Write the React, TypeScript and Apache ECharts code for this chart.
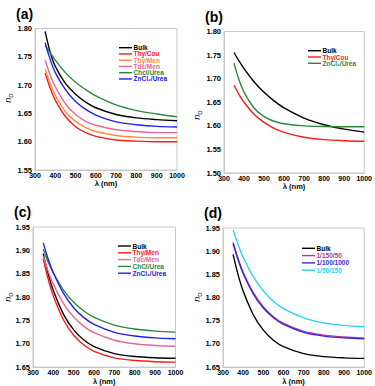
import React, { useEffect, useRef } from "react";
import * as echarts from "echarts";

// wavelengths (nm)
const LAMBDA = [350, 375, 400, 450, 500, 550, 600, 700, 800, 900, 1000];
const X_TICKS = [300, 400, 500, 600, 700, 800, 900, 1000];

// Panel (a)
const A_BULK = [1.795, 1.758, 1.733, 1.703, 1.684, 1.67, 1.66, 1.648, 1.642, 1.639, 1.637];
const A_THY_COU = [1.7215, 1.6945, 1.6735, 1.6445, 1.6265, 1.616, 1.6095, 1.603, 1.601, 1.6, 1.6];
const A_THY_MEN = [1.728, 1.702, 1.682, 1.653, 1.636, 1.625, 1.618, 1.611, 1.608, 1.607, 1.607];
const A_TDC_MEN = [1.744, 1.718, 1.697, 1.667, 1.648, 1.636, 1.629, 1.621, 1.618, 1.616, 1.616];
const A_CHCL_UREA = [1.77, 1.757, 1.744, 1.722, 1.705, 1.692, 1.681, 1.665, 1.655, 1.649, 1.644];
const A_ZNCL2_UREA = [1.775, 1.745, 1.722, 1.692, 1.671, 1.657, 1.647, 1.635, 1.63, 1.627, 1.626];

// Panel (b)
const B_BULK = [1.7555, 1.7375, 1.7214, 1.6936, 1.671, 1.653, 1.638, 1.6165, 1.6023, 1.5929, 1.5867];
const B_THY_COU = [1.686, 1.6663, 1.65, 1.6247, 1.6072, 1.5948, 1.5862, 1.5758, 1.5708, 1.5684, 1.5672];
const B_ZNCL2_UREA = [1.733, 1.6975, 1.6713, 1.6378, 1.6196, 1.6097, 1.6044, 1.5999, 1.5985, 1.598, 1.598];

// Panel (c)
const C_BULK = [1.893, 1.849, 1.814, 1.763, 1.7297, 1.708, 1.694, 1.679, 1.6727, 1.67, 1.6688];
const C_THY_MEN = [1.882, 1.8376, 1.802, 1.7508, 1.7182, 1.6973, 1.6838, 1.6698, 1.664, 1.6616, 1.6607];
const C_TDC_MEN = [1.888, 1.855, 1.8276, 1.786, 1.7572, 1.7373, 1.7236, 1.7076, 1.7, 1.6963, 1.6946];
const C_CHCL_UREA = [1.9025, 1.8745, 1.8515, 1.8149, 1.7887, 1.77, 1.7565, 1.74, 1.7315, 1.7271, 1.7249];
const C_ZNCL2_UREA = [1.916, 1.881, 1.852, 1.8077, 1.7771, 1.756, 1.7415, 1.7245, 1.7165, 1.7125, 1.7107];

// Panel (d)
const D_BULK = [1.893, 1.849, 1.814, 1.763, 1.7297, 1.708, 1.694, 1.679, 1.6727, 1.67, 1.6688];
const D_1_150_50 = [1.919, 1.8839, 1.8547, 1.8105, 1.7798, 1.7586, 1.7441, 1.7271, 1.719, 1.715, 1.7125];
const D_1_100_1000 = [1.916, 1.8811, 1.852, 1.808, 1.7774, 1.7564, 1.7419, 1.725, 1.7169, 1.713, 1.711];
const D_1_50_150 = [1.946, 1.914, 1.887, 1.845, 1.8145, 1.792, 1.776, 1.756, 1.7455, 1.74, 1.737];

const BLACK = "#000000";
const RED = "#ff1a1a";
const ORANGE = "#ff8a3d";
const PINK = "#e8679a";
const GREEN = "#2a8a3a";
const BLUE = "#2020f0";
const MAGENTA = "#b8309f";
const BLUE_D = "#3a2ad0";
const CYAN = "#22d4f0";

type S = { name: string; data: number[]; color: string };

const PANELS: {
  label: string;
  grid: { left: number; top: number; width: number; height: number };
  yMin: number;
  yMax: number;
  series: S[];
  legend: { x: number; y: number; gap: number };
  nd: { x: number; y: number };
}[] = [
  {
    label: "(a)",
    grid: { left: 35, top: 28.5, width: 142, height: 141.5 },
    yMin: 1.55,
    yMax: 1.8,
    series: [
      { name: "Bulk", data: A_BULK, color: BLACK },
      { name: "Thy/Cou", data: A_THY_COU, color: RED },
      { name: "Thy/Men", data: A_THY_MEN, color: ORANGE },
      { name: "Tdc/Men", data: A_TDC_MEN, color: PINK },
      { name: "Chcl/Urea", data: A_CHCL_UREA, color: GREEN },
      { name: "ZnCl₂/Urea", data: A_ZNCL2_UREA, color: BLUE },
    ],
    legend: { x: 119, y: 47.7, gap: 6.25 },
    nd: { x: 8, y: 98 },
  },
  {
    label: "(b)",
    grid: { left: 224, top: 31.5, width: 141, height: 141.5 },
    yMin: 1.5,
    yMax: 1.8,
    series: [
      { name: "Bulk", data: B_BULK, color: BLACK },
      { name: "Thy/Cou", data: B_THY_COU, color: RED },
      { name: "ZnCl₂/Urea", data: B_ZNCL2_UREA, color: GREEN },
    ],
    legend: { x: 308, y: 50.7, gap: 6.3 },
    nd: { x: 197, y: 115 },
  },
  {
    label: "(c)",
    grid: { left: 33, top: 227, width: 142.5, height: 140.5 },
    yMin: 1.65,
    yMax: 1.95,
    series: [
      { name: "Bulk", data: C_BULK, color: BLACK },
      { name: "Thy/Men", data: C_THY_MEN, color: RED },
      { name: "Tdc/Men", data: C_TDC_MEN, color: PINK },
      { name: "ChCl/Urea", data: C_CHCL_UREA, color: GREEN },
      { name: "ZnCl₂/Urea", data: C_ZNCL2_UREA, color: BLUE },
    ],
    legend: { x: 118, y: 246, gap: 6.8 },
    nd: { x: 8, y: 297 },
  },
  {
    label: "(d)",
    grid: { left: 223, top: 228, width: 142, height: 141 },
    yMin: 1.65,
    yMax: 1.95,
    series: [
      { name: "Bulk", data: D_BULK, color: BLACK },
      { name: "1/150/50", data: D_1_150_50, color: MAGENTA },
      { name: "1/100/1000", data: D_1_100_1000, color: BLUE_D },
      { name: "1/50/150", data: D_1_50_150, color: CYAN },
    ],
    legend: { x: 302, y: 248.3, gap: 7.3 },
    nd: { x: 197, y: 297 },
  },
];

const FONT = "Liberation Sans, Arial, sans-serif";

export default function App() {
  const ref = useRef<HTMLDivElement>(null);
  useEffect(() => {
    if (!ref.current) return;
    const chart = echarts.init(ref.current, null, { renderer: "svg" });

    const grid: any[] = [];
    const xAxis: any[] = [];
    const yAxis: any[] = [];
    const series: any[] = [];
    const graphic: any[] = [];

    PANELS.forEach((p, i) => {
      grid.push({
        ...p.grid,
        show: true,
        borderColor: "#c8c8c8",
        borderWidth: 1,
        backgroundColor: "transparent",
      });
      xAxis.push({
        type: "value",
        gridIndex: i,
        min: X_TICKS[0],
        max: X_TICKS[X_TICKS.length - 1],
        interval: 100,
        name: "λ (nm)",
        nameLocation: "middle",
        nameGap: 7,
        nameTextStyle: { fontFamily: FONT, fontWeight: "bold", fontSize: 7.5, color: "#000" },
        axisLine: { show: true, lineStyle: { color: "#c8c8c8", width: 1 } },
        axisTick: { show: false },
        splitLine: { show: false },
        axisLabel: {
          margin: 2,
          fontFamily: FONT,
          fontWeight: "bold",
          fontSize: 7,
          color: "#000",
          formatter: (v: number) => String(Math.round(v)),
        },
      });
      yAxis.push({
        type: "value",
        gridIndex: i,
        min: p.yMin,
        max: p.yMax,
        interval: 0.05,
        axisLine: { show: true, lineStyle: { color: "#c8c8c8", width: 1 } },
        axisTick: { show: false },
        splitLine: { show: false },
        axisLabel: {
          margin: 3,
          fontFamily: FONT,
          fontWeight: "bold",
          fontSize: 7.5,
          color: "#000",
          formatter: (v: number) => v.toFixed(2),
        },
      });
      p.series.forEach((s) => {
        series.push({
          type: "line",
          name: s.name,
          xAxisIndex: i,
          yAxisIndex: i,
          data: LAMBDA.map((l, k) => [l, s.data[k]]),
          smooth: 0.3,
          showSymbol: false,
          symbol: "none",
          lineStyle: { color: s.color, width: 1.4 },
          itemStyle: { color: s.color },
        });
      });
      // panel label
      graphic.push({
        type: "text",
        x: p.grid.left - 19,
        y: p.grid.top - 22,
        style: {
          text: p.label,
          fontFamily: FONT,
          fontWeight: "bold",
          fontSize: 14,
          fill: "#000",
        },
      });
      // y axis title n_D
      graphic.push({
        type: "text",
        x: p.nd.x,
        y: p.nd.y,
        rotation: Math.PI / 2,
        style: {
          text: "{n|n}{d|D}",
          align: "center",
          verticalAlign: "middle",
          rich: {
            n: { fontFamily: FONT, fontStyle: "italic", fontSize: 9, fill: "#000" },
            d: { fontFamily: FONT, fontSize: 6, fill: "#000", padding: [5, 0, 0, 0] },
          },
        },
      });
      // legend
      p.series.forEach((s, k) => {
        const y = p.legend.y + k * p.legend.gap;
        graphic.push({
          type: "line",
          shape: { x1: p.legend.x, y1: y, x2: p.legend.x + 13, y2: y },
          style: { stroke: s.color, lineWidth: 1.4 },
        });
        graphic.push({
          type: "text",
          x: p.legend.x + 14.5,
          y,
          style: {
            text: s.name,
            fontFamily: FONT,
            fontWeight: "bold",
            fontSize: 6.5,
            fill: s.color,
            verticalAlign: "middle",
            align: "left",
          },
        });
      });
    });

    chart.setOption({
      animation: false,
      backgroundColor: "#ffffff",
      grid,
      xAxis,
      yAxis,
      series,
      graphic,
    });
    return () => chart.dispose();
  }, []);

  return (
    <div
      ref={ref}
      style={{ position: "absolute", left: 0, top: 0, width: 375, height: 386, background: "#fff" }}
    />
  );
}
